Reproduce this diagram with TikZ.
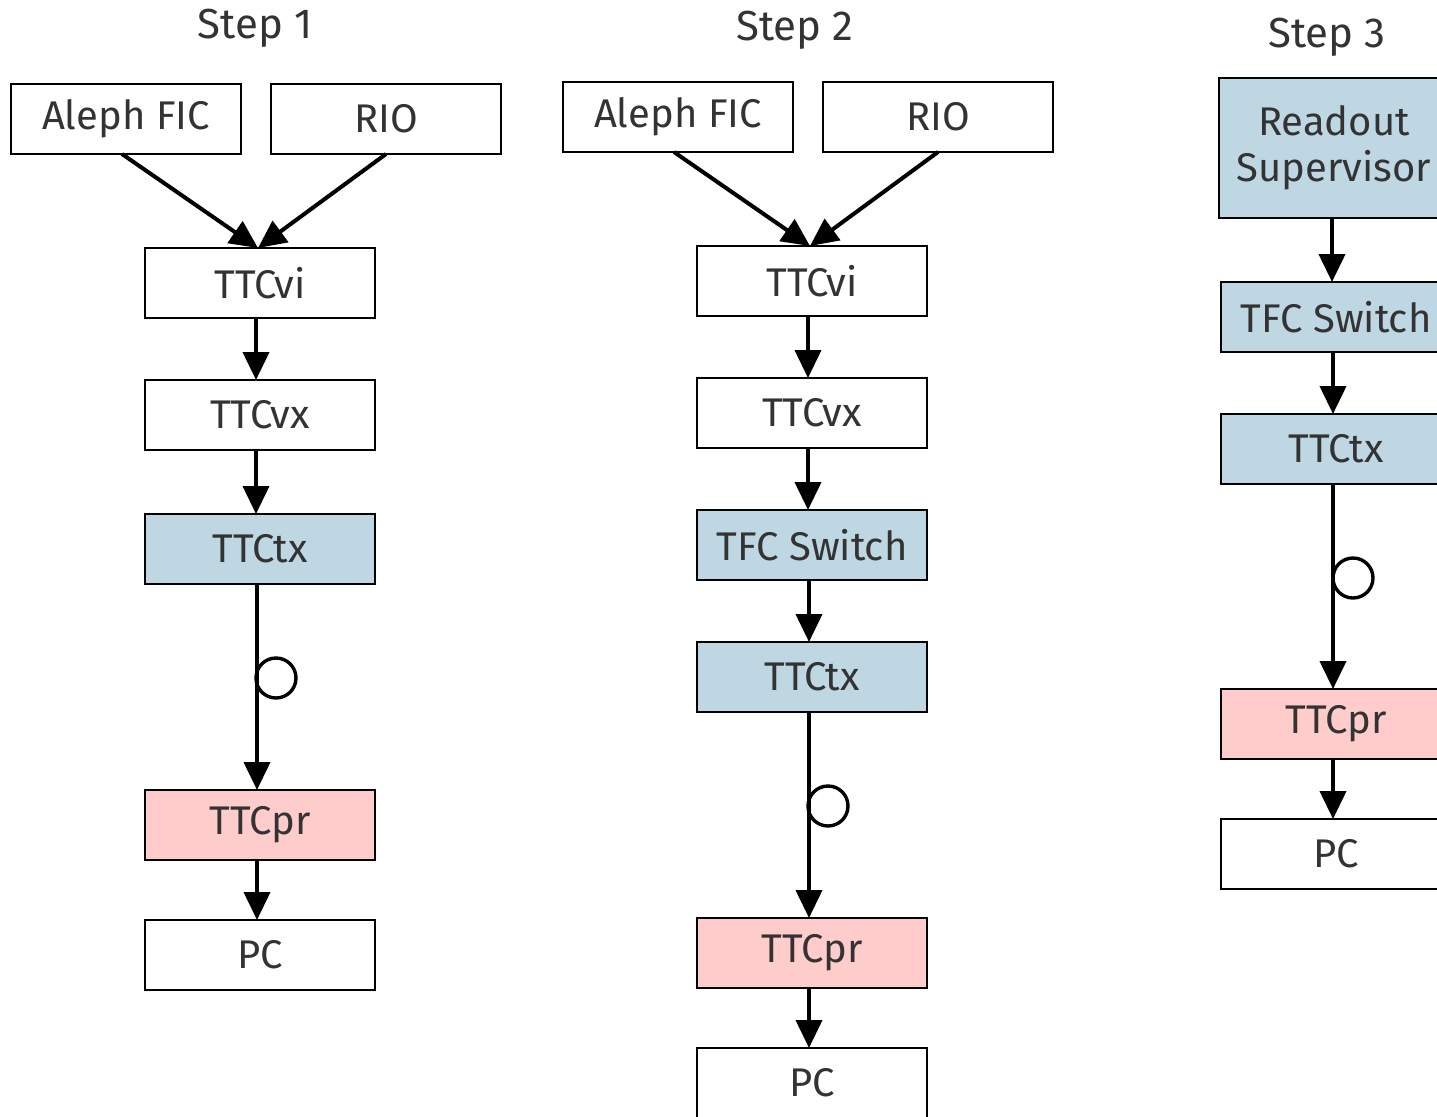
\documentclass[tikz,border=0pt]{standalone}
\usepackage{fontspec}
\setmainfont{Fira Sans}
\usetikzlibrary{arrows.meta}
\definecolor{boxblue}{HTML}{BED7E3}
\definecolor{boxpink}{HTML}{FFCCCC}
\definecolor{txt}{HTML}{333333}
\begin{document}
\begin{tikzpicture}[x=0.5pt,y=-0.5pt,
  box/.style={draw=black,line width=1pt,minimum width=115pt,minimum height=35pt,inner sep=0pt,outer sep=0pt,text=txt,font=\fontsize{20}{24}\selectfont,fill=white},
  bluebox/.style={box,fill=boxblue},
  pinkbox/.style={box,fill=boxpink},
  title/.style={text=txt,font=\fontsize{21}{25}\selectfont},
  conn/.style={line width=2pt,-{Triangle[length=14pt,width=13pt]}},
  ring/.style={draw=black,circle,line width=1.7pt,minimum size=20pt,inner sep=0pt}]
\useasboundingbox (0,0) rectangle (1437,1116);
% Step 1
\node[title] (t1) at (255,28) {Step 1};
\node[box] (a1) at (126,119) {Aleph FIC};
\node[box] (r1) at (386,119) {RIO};
\node[box] (vi1) at (260,283) {TTCvi};
\node[box] (vx1) at (260,415) {TTCvx};
\node[bluebox] (tx1) at (260,549) {TTCtx};
\node[pinkbox] (pr1) at (260,825) {TTCpr};
\node[box] (pc1) at (260,955) {PC};
\draw[conn] ([xshift=-2pt]a1.south) -- ([xshift=-1pt]vi1.north);
\draw[conn] (r1.south) -- ([xshift=-1pt]vi1.north);
\draw[conn] ([xshift=-2pt]vi1.south) -- ([xshift=-2pt]vx1.north);
\draw[conn] ([xshift=-2pt]vx1.south) -- ([xshift=-2pt]tx1.north);
\draw[conn] ([xshift=-1.5pt]tx1.south) -- ([xshift=-1.5pt]pr1.north);
\draw[conn] ([xshift=-1.5pt]pr1.south) -- ([xshift=-1.5pt]pc1.north);
\node[ring] (c1) at (276,678) {};
% Step 2
\node[title] (t2) at (795,30) {Step 2};
\node[box] (a2) at (678,117) {Aleph FIC};
\node[box] (r2) at (938,117) {RIO};
\node[box] (vi2) at (812,281) {TTCvi};
\node[box] (vx2) at (812,413) {TTCvx};
\node[bluebox] (sw2) at (812,545) {TFC Switch};
\node[bluebox] (tx2) at (812,677) {TTCtx};
\node[pinkbox] (pr2) at (812,953) {TTCpr};
\node[box] (pc2) at (812,1083) {PC};
\draw[conn] ([xshift=-2pt]a2.south) -- ([xshift=-1pt]vi2.north);
\draw[conn] (r2.south) -- ([xshift=-1pt]vi2.north);
\draw[conn] ([xshift=-2pt]vi2.south) -- ([xshift=-2pt]vx2.north);
\draw[conn] ([xshift=-2pt]vx2.south) -- ([xshift=-2pt]sw2.north);
\draw[conn] ([xshift=-1.5pt]sw2.south) -- ([xshift=-1.5pt]tx2.north);
\draw[conn] ([xshift=-1.5pt]tx2.south) -- ([xshift=-1.5pt]pr2.north);
\draw[conn] ([xshift=-1.5pt]pr2.south) -- ([xshift=-1.5pt]pc2.north);
\node[ring] (c2) at (828,806) {};
% Step 3
\node[title] (t3) at (1327,37) {Step 3};
\node[bluebox,minimum height=70pt,align=center] (rs3) at (1334,148) {Readout\\[-1pt]Supervisor};
\node[bluebox] (sw3) at (1336,317) {TFC Switch};
\node[bluebox] (tx3) at (1336,449) {TTCtx};
\node[pinkbox] (pr3) at (1336,724) {TTCpr};
\node[box] (pc3) at (1336,854) {PC};
\draw[conn] ([xshift=-2pt]rs3.south -| sw3.north) -- ([xshift=-2pt]sw3.north);
\draw[conn] ([xshift=-1.5pt]sw3.south) -- ([xshift=-1.5pt]tx3.north);
\draw[conn] ([xshift=-1.5pt]tx3.south) -- ([xshift=-1.5pt]pr3.north);
\draw[conn] ([xshift=-1.5pt]pr3.south) -- ([xshift=-1.5pt]pc3.north);
\node[ring] (c3) at (1353,578) {};
\end{tikzpicture}
\end{document}
